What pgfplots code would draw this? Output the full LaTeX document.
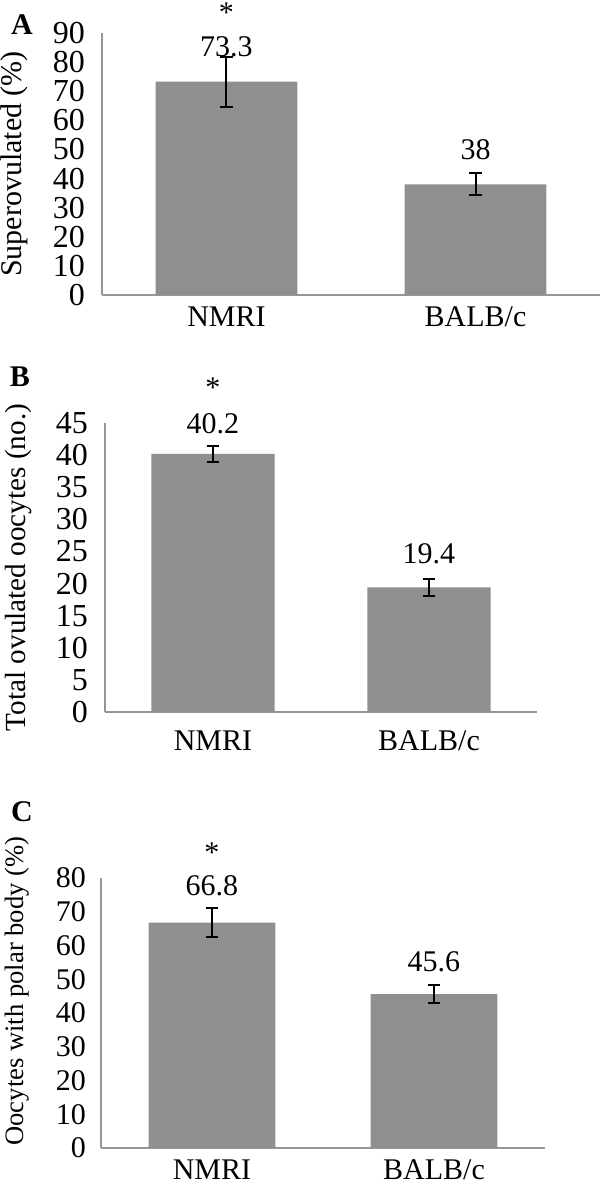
\documentclass[border=0pt]{standalone}
\usepackage{fontspec}
\setmainfont{Liberation Serif}
\usepackage{pgfplots}
\pgfplotsset{compat=1.18}
\definecolor{bargray}{RGB}{143,143,143}
\definecolor{axgray}{RGB}{150,150,150}

\pgfplotsset{
  panel/.style={
    scale only axis, anchor=south west,
    xmin=-0.5, xmax=1.5, xtick={0,1}, xticklabels={NMRI,BALB/c},
    axis x line=bottom, axis y line=left,
    axis line style={-, axgray, line width=1pt},
    major tick length=0pt,
    ymin=0, clip=false,
    /pgf/number format/assume math mode=true,
    every axis y label/.style={rotate=90, anchor=center,
      font=\fontsize{15}{18}\selectfont},
  },
  vals/.style={draw=none, mark=none, nodes near coords, point meta=explicit symbolic,
    every node near coord/.append style={anchor=center, black, font=\fontsize{15}{18}\selectfont}},
  bars/.style={ybar, bar width=0.57, fill=bargray, draw=none,
    error bars/.cd, y dir=both, y explicit,
    error bar style={line width=1pt, black},
    error mark options={rotate=90, mark size=3.2pt, line width=1pt, black}},
}

\begin{document}
\begin{tikzpicture}
\useasboundingbox (0,0) rectangle (300pt,592pt);

% A
\begin{axis}[panel, at={(51pt,444.5pt)}, width=249pt, height=131pt,
  ymax=90, ytick distance=10,
  yticklabel style={font=\fontsize{16}{18}\selectfont, xshift=-5pt},
  xticklabel style={font=\fontsize{15}{18}\selectfont, yshift=-2.5pt},
  ylabel={Superovulated (\%)},
  ylabel style={at={(axis description cs:-0.177,0.5)}}]
\addplot[bars] coordinates {(0,73.3) +- (0,8.6) (1,38) +- (0,3.8)};
\addplot[vals] coordinates {(0,85.2)[73.3] (1,49.8)[38]};
\addplot[vals] coordinates {(0,97)[*]};
\end{axis}

% B
\begin{axis}[panel, at={(52.5pt,236pt)}, width=216pt, height=144.5pt,
  ymax=45, ytick distance=5,
  yticklabel style={font=\fontsize{16}{18}\selectfont, xshift=-5pt},
  xticklabel style={font=\fontsize{15}{18}\selectfont, yshift=-6pt},
  ylabel={Total ovulated oocytes (no.)},
  ylabel style={at={(axis description cs:-0.201,0.5)}, font=\fontsize{14.6}{17}\selectfont}]
\addplot[bars] coordinates {(0,40.2) +- (0,1.2) (1,19.4) +- (0,1.3)};
\addplot[vals] coordinates {(0,44.9)[40.2] (1,24.6)[19.4]};
\addplot[vals] coordinates {(0,50.5)[*]};
\end{axis}

% C
\begin{axis}[panel, at={(50.5pt,18pt)}, width=222pt, height=135pt,
  ymax=80, ytick distance=10,
  yticklabel style={font=\fontsize{15}{18}\selectfont, xshift=-4pt},
  xticklabel style={font=\fontsize{15}{18}\selectfont, yshift=-2.5pt},
  ylabel={Oocytes with polar body (\%)},
  ylabel style={at={(axis description cs:-0.189,0.581)}, font=\fontsize{13.3}{16}\selectfont}]
\addplot[bars] coordinates {(0,66.8) +- (0,4.3) (1,45.6) +- (0,2.6)};
\addplot[vals] coordinates {(0,77.6)[66.8] (1,55.1)[45.6]};
\addplot[vals] coordinates {(0,87.5)[*]};
\end{axis}

\node[font=\bfseries\fontsize{15}{18}\selectfont] at (11pt,579.5pt) {A};
\node[font=\bfseries\fontsize{15}{18}\selectfont] at (10pt,403.5pt) {B};
\node[font=\bfseries\fontsize{15}{18}\selectfont] at (11pt,186pt) {C};
\end{tikzpicture}
\end{document}
